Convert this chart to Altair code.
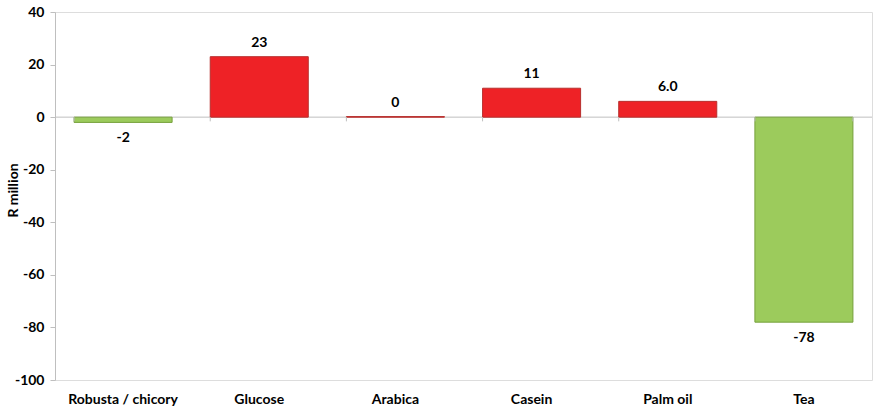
import altair as alt
import pandas as pd

categories = ["Robusta / chicory", "Glucose", "Arabica", "Casein", "Palm oil", "Tea"]
values = [-2, 23, 0.2, 11, 6.0, -78]
labels = ["-2", "23", "0", "11", "6.0", "-78"]

df = pd.DataFrame({"cat": categories, "val": values, "lab": labels})
df["sign"] = ["neg" if v < 0 else "pos" for v in values]

FONT = "Lato"
FS = 14
W, H = 817, 368

xscale = alt.Scale(domain=categories, paddingInner=0.28, paddingOuter=0.14)
yscale = alt.Scale(domain=[-100, 40], nice=False, zero=False)

x = alt.X("cat:N", sort=categories, scale=xscale,
          axis=alt.Axis(title=None, domain=False, ticks=False, labelAngle=0,
                        labelFont=FONT, labelFontWeight="bold", labelFontSize=FS,
                        labelColor="#000000", labelPadding=12))
y = alt.Y("val:Q", scale=yscale,
          axis=alt.Axis(title="R million", values=list(range(-100, 41, 20)),
                        labelExpr="replace(datum.label, '\u2212', '-')",
                        grid=False, domainColor="#BFBFBF", tickColor="#BFBFBF",
                        tickSize=5, labelFont=FONT, labelFontWeight="bold",
                        labelFontSize=FS, labelColor="#000000", labelPadding=6,
                        titleFont=FONT, titleFontWeight="bold", titleFontSize=14,
                        titleColor="#000000", titleAngle=-90, titleX=-35,
                        titleY=178, titleBaseline="bottom", titleAlign="center"))

base = alt.Chart(df)

bars = base.mark_bar(strokeWidth=1).encode(
    x=x, y=y, y2=alt.datum(0),
    color=alt.Color("sign:N", scale=alt.Scale(domain=["pos", "neg"], range=["#EE2226", "#9CCB5C"]), legend=None),
    stroke=alt.Stroke("sign:N", scale=alt.Scale(domain=["pos", "neg"], range=["#B8302E", "#76A03C"]), legend=None),
)

zero = alt.Chart(pd.DataFrame({"z": [0]})).mark_rule(color="#BFBFBF", strokeWidth=1).encode(
    y=alt.Y("z:Q", scale=yscale), x=alt.value(0), x2=alt.value(W))

ticks_left = base.mark_rule(color="#BFBFBF", strokeWidth=1).encode(
    x=alt.X("cat:N", sort=categories, scale=xscale, bandPosition=0),
    y=alt.datum(0), y2=alt.datum(-1.6))
ticks_right = alt.Chart(pd.DataFrame({"cat": [categories[-1]]})).mark_rule(color="#BFBFBF", strokeWidth=1).encode(
    x=alt.X("cat:N", sort=categories, scale=xscale, bandPosition=1),
    y=alt.datum(0), y2=alt.datum(-1.6))

text_pos = base.transform_filter("datum.val >= 0").mark_text(
    font=FONT, fontWeight="bold", fontSize=FS, baseline="bottom", dy=-7, color="#000000"
).encode(x=alt.X("cat:N", sort=categories, scale=xscale), y=alt.Y("val:Q", scale=yscale), text="lab:N")

text_neg = base.transform_filter("datum.val < 0").mark_text(
    font=FONT, fontWeight="bold", fontSize=FS, baseline="top", dy=9, color="#000000"
).encode(x=alt.X("cat:N", sort=categories, scale=xscale), y=alt.Y("val:Q", scale=yscale), text="lab:N")

chart = alt.layer(zero, bars, ticks_left, ticks_right, text_pos, text_neg).properties(
    width=W, height=H,
    autosize=alt.AutoSizeParams(type="none"),
    padding={"left": 55, "top": 12, "right": 1, "bottom": 31},
).configure_view(stroke=None).configure(background="#FFFFFF")

chart.save("out.html", embed_options={"renderer": "svg", "actions": False})
